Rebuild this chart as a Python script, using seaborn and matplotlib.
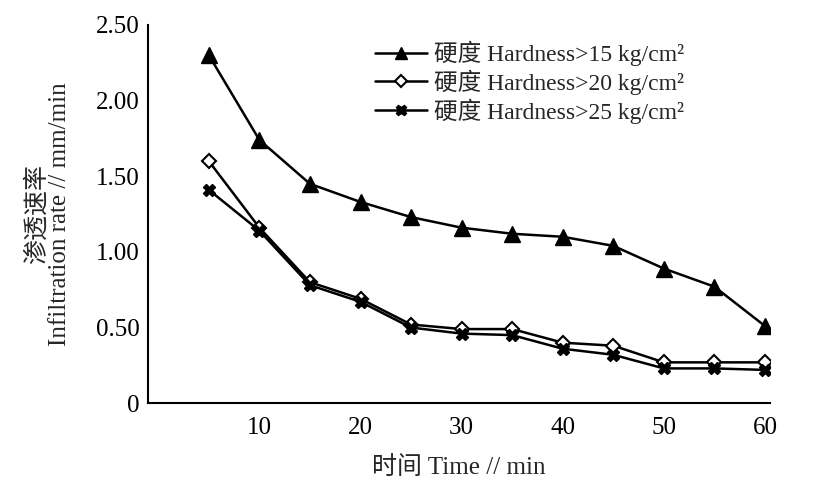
import seaborn as sns
import pandas as pd
import matplotlib.pyplot as plt
from matplotlib.lines import Line2D

# Data
time_min = [5, 10, 15, 20, 25, 30, 35, 40, 45, 50, 55, 60]
rate_h15 = [2.30, 1.74, 1.45, 1.33, 1.23, 1.16, 1.12, 1.10, 1.04, 0.89, 0.77, 0.51]
rate_h20 = [1.60, 1.16, 0.80, 0.69, 0.52, 0.49, 0.49, 0.40, 0.38, 0.27, 0.27, 0.27]
rate_h25 = [1.41, 1.14, 0.78, 0.67, 0.50, 0.46, 0.45, 0.36, 0.32, 0.23, 0.23, 0.22]
series_labels = ['硬度 Hardness>15 kg/cm²',
                 '硬度 Hardness>20 kg/cm²',
                 '硬度 Hardness>25 kg/cm²']
y_ticks = [0, 0.5, 1.0, 1.5, 2.0, 2.5]
y_ticklabels = ['0', '0.50', '1.00', '1.50', '2.00', '2.50']
x_ticks = [10, 20, 30, 40, 50, 60]

df = pd.DataFrame({
    'time': time_min * 3,
    'rate': rate_h15 + rate_h20 + rate_h25,
    'series': [series_labels[0]] * 12 + [series_labels[1]] * 12 + [series_labels[2]] * 12,
})

sns.set_style('white')
plt.rcParams['font.family'] = ['Liberation Serif', 'Noto Sans CJK SC']

fig = plt.figure(figsize=(8.14, 4.8), dpi=100)
ax = fig.add_axes([0.182, 0.160, 0.764, 0.788])

markers = {series_labels[0]: '^', series_labels[1]: 'D', series_labels[2]: 'X'}
sns.lineplot(
    data=df, x='time', y='rate', hue='series', style='series',
    palette=['black'] * 3, markers=markers,
    dashes=False, linewidth=1.8, markersize=9, ax=ax, legend=False,
)

# marker looks: filled triangle, open diamond, bold cross
marker_style = [
    dict(marker='^', markersize=11, markerfacecolor='black', markeredgewidth=1),
    dict(marker='D', markersize=7, markerfacecolor='white', markeredgewidth=1.5),
    dict(marker='X', markersize=9, markerfacecolor='black', markeredgewidth=1),
]
for ln, st in zip(ax.get_lines()[:3], marker_style):
    ln.set(markeredgecolor='black', **st)

handles = [Line2D([], [], color='black', linewidth=1.8, markeredgecolor='black', **st)
           for st in marker_style]
for h, st in zip(handles, marker_style):
    h.set_markersize(st['markersize'] * 0.85)
ax.legend(handles, series_labels, loc='upper left', bbox_to_anchor=(0.33, 1.015),
          frameon=False, fontsize=17, handlelength=2.2, handletextpad=0.3,
          labelspacing=0.15, markerfirst=True)

ax.set_xlim(-1, 60.5)
ax.set_ylim(0, 2.5)
ax.set_xticks(x_ticks)
ax.set_yticks(y_ticks)
ax.set_yticklabels(y_ticklabels)
ax.tick_params(direction='in', length=6, width=1.5, labelsize=18, colors='black')
ax.tick_params(axis='x', pad=10)
ax.tick_params(axis='y', pad=6)
for side in ['top', 'right']:
    ax.spines[side].set_visible(False)
for side in ['left', 'bottom']:
    ax.spines[side].set_linewidth(1.5)
    ax.spines[side].set_color('black')

ax.set_xlabel('时间 Time // min', fontsize=18, labelpad=12)
ax.set_ylabel('渗透速率\nInfiltration rate // mm/min', fontsize=18, labelpad=18,
              linespacing=1.05)

fig.savefig('out.png', dpi=100)
